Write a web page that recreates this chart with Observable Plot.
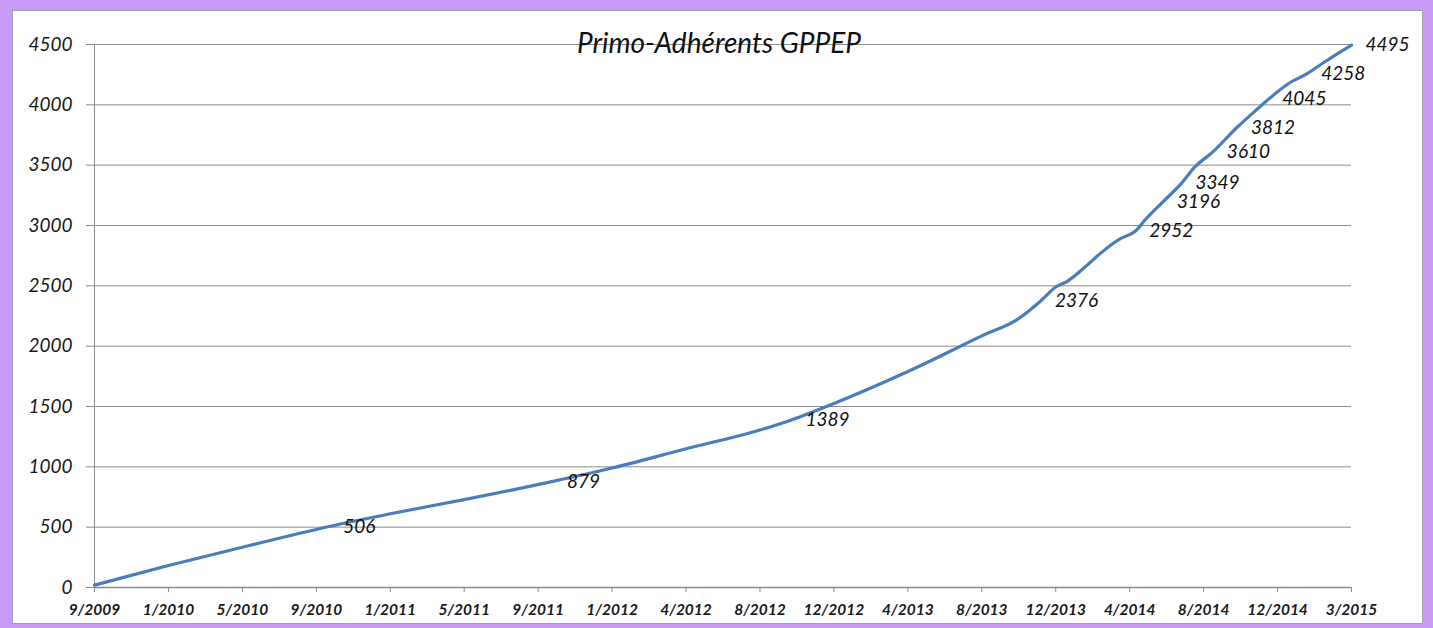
<!DOCTYPE html>
<html>
<head>
<meta charset="utf-8">
<script src="https://cdn.jsdelivr.net/npm/d3@7"></script>
<script src="https://cdn.jsdelivr.net/npm/@observablehq/plot@0.6"></script>
<style>
  html, body { margin: 0; padding: 0; }
  body { width: 1433px; height: 628px; background: #c99bf7; position: relative; overflow: hidden; font-family: Lato, "Open Sans", sans-serif; }
  #box { position: absolute; left: 12px; top: 10px; width: 1411px; height: 614px; background: #ffffff; border: 1px solid #a3a3a3; box-sizing: border-box; }
  #box svg { position: absolute; left: 0; top: 0; }
</style>
</head>
<body>
<div id="box"></div>
<script>
// ---- data ----
const title = "Primo-Adhérents GPPEP";
const tickLabels = ["9/2009","1/2010","5/2010","9/2010","1/2011","5/2011","9/2011","1/2012","4/2012","8/2012","12/2012","4/2013","8/2013","12/2013","4/2014","8/2014","12/2014","3/2015"];
const tickIndex  = [0,4,8,12,16,20,24,28,32,36,40,44,48,52,56,60,64,68];
const yTicks     = [0,500,1000,1500,2000,2500,3000,3500,4000,4500];

// category position (index along the axis) and cumulative members
const seriesIndex = [0, 4, 8, 12.7, 16, 20, 24.8, 28, 32, 36, 37.7, 40, 44, 48, 50, 51.2, 52, 52.6, 53.8, 54.4, 55.5, 56.3, 56.8, 57.8, 58.8, 59.5, 60.5, 61.8, 63, 63.5, 64.6, 65.6, 66.5, 68];
const seriesValue = [20, 182, 334, 506, 611, 728, 879, 990, 1150, 1305, 1389, 1525, 1790, 2085, 2229, 2376, 2490, 2535, 2685, 2767, 2892, 2952, 3040, 3196, 3349, 3481, 3610, 3812, 3978, 4045, 4177, 4258, 4351, 4495];

// labelled points
const labelIndex = [12.7, 24.8, 37.7, 51.2, 56.3, 57.8, 58.8, 60.5, 61.8, 63.5, 65.6, 68];
const labelValue = [506, 879, 1389, 2376, 2952, 3196, 3349, 3610, 3812, 4045, 4258, 4495];

const series = seriesIndex.map((x, i) => ({x, y: seriesValue[i]}));
const labels = labelIndex.map((x, i) => ({x, y: labelValue[i]}));

const grey = "#8c8c8c";
const chart = Plot.plot({
  width: 1409,
  height: 612,
  marginLeft: 81,
  marginRight: 71,
  marginTop: 33,
  marginBottom: 36,
  style: {fontFamily: "Lato, 'Open Sans', sans-serif", background: "transparent", color: "#1a1a1a", overflow: "visible"},
  x: {domain: [0, 68]},
  y: {domain: [0, 4500]},
  marks: [
    Plot.gridY(yTicks, {stroke: grey, strokeOpacity: 1, strokeWidth: 1}),
    Plot.ruleX([0], {stroke: grey, strokeWidth: 1}),
    Plot.ruleY([0], {stroke: grey, strokeWidth: 1.3}),
    Plot.axisY(yTicks, {
      label: null,
      tickSize: 8, tickPadding: 14, stroke: grey, fill: "#1a1a1a",
      fontSize: 19, fontStyle: "italic",
      tickFormat: d => String(d)
    }),
    Plot.axisX(tickIndex, {
      label: null,
      tickSize: 5, tickPadding: 11, stroke: grey, fill: "#1a1a1a",
      fontSize: 15.5, fontWeight: "bold", fontStyle: "italic",
      tickFormat: d => tickLabels[tickIndex.indexOf(d)]
    }),
    Plot.line(series, {x: "x", y: "y", stroke: "#4a7ebb", strokeWidth: 3.2, curve: "monotone-x", strokeLinejoin: "round", strokeLinecap: "round"}),
    Plot.text(labels, {x: "x", y: "y", text: d => String(d.y), textAnchor: "start", dx: 14, fontSize: 19, fontStyle: "italic", fill: "#111"}),
    Plot.text([title], {frameAnchor: "top", text: d => d, dx: -4, lineAnchor: "middle", fontSize: 28, fontStyle: "italic", fill: "#111"})
  ]
});
document.getElementById("box").appendChild(chart);
</script>
</body>
</html>
